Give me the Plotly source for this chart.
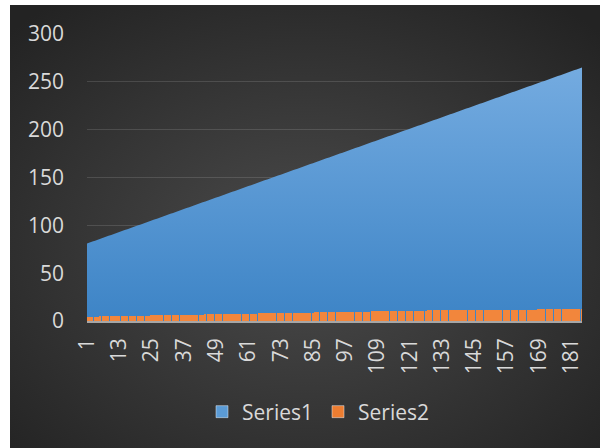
import base64
import plotly.graph_objects as go

# ---------------- data ----------------
categories = list(range(1, 186))

series1 = [
    81, 82, 83, 84, 85, 86, 87, 88, 89, 90, 91, 92, 93, 94, 95, 96, 97, 98, 99, 100,
    101, 102, 103, 104, 105, 106, 107, 108, 109, 110, 111, 112, 113, 114, 115, 116, 117, 118, 119, 120,
    121, 122, 123, 124, 125, 126, 127, 128, 129, 130, 131, 132, 133, 134, 135, 136, 137, 138, 139, 140,
    141, 142, 143, 144, 145, 146, 147, 148, 149, 150, 151, 152, 153, 154, 155, 156, 157, 158, 159, 160,
    161, 162, 163, 164, 165, 166, 167, 168, 169, 170, 171, 172, 173, 174, 175, 176, 177, 178, 179, 180,
    181, 182, 183, 184, 185, 186, 187, 188, 189, 190, 191, 192, 193, 194, 195, 196, 197, 198, 199, 200,
    201, 202, 203, 204, 205, 206, 207, 208, 209, 210, 211, 212, 213, 214, 215, 216, 217, 218, 219, 220,
    221, 222, 223, 224, 225, 226, 227, 228, 229, 230, 231, 232, 233, 234, 235, 236, 237, 238, 239, 240,
    241, 242, 243, 244, 245, 246, 247, 248, 249, 250, 251, 252, 253, 254, 255, 256, 257, 258, 259, 260,
    261, 262, 263, 264, 265,
]

series2 = [
    4, 4, 4, 4, 4,
    5, 5, 5, 5, 5, 5, 5, 5, 5, 5, 5, 5, 5, 5, 5, 5, 5, 5, 5,
    6, 6, 6, 6, 6, 6, 6, 6, 6, 6, 6, 6, 6, 6, 6, 6, 6, 6, 6, 6,
    7, 7, 7, 7, 7, 7, 7, 7, 7, 7, 7, 7, 7, 7, 7, 7, 7, 7, 7, 7,
    8, 8, 8, 8, 8, 8, 8, 8, 8, 8, 8, 8, 8, 8, 8, 8, 8, 8, 8, 8, 8,
    9, 9, 9, 9, 9, 9, 9, 9, 9, 9, 9, 9, 9, 9, 9, 9, 9, 9, 9, 9, 9,
    10, 10, 10, 10, 10, 10, 10, 10, 10, 10, 10, 10, 10, 10, 10, 10, 10, 10, 10, 10, 10,
    11, 11, 11, 11, 11, 11, 11, 11, 11, 11, 11, 11, 11, 11, 11, 11, 11, 11, 11, 11,
    12, 12, 12, 12, 12, 12, 12, 12, 12, 12, 12, 12, 12, 12, 12, 12, 12, 12, 12, 12, 12,
    13, 13, 13, 13, 13, 13, 13, 13, 13, 13, 13, 13, 13, 13, 13, 13, 13,
]

x_tick_vals = [1, 13, 25, 37, 49, 61, 73, 85, 97, 109, 121, 133, 145, 157, 169, 181]
x_tick_labels = ["1", "13", "25", "37", "49", "61", "73", "85", "97", "109",
                 "121", "133", "145", "157", "169", "181"]
y_tick_vals = [0, 50, 100, 150, 200, 250, 300]
y_tick_labels = ["0", "50", "100", "150", "200", "250", "300"]

# ---------------- geometry ----------------
W, H = 600, 448
L, R, T, B = 87, 18, 34, 127
PW, PH = W - L - R, H - T - B

FONT = "Open Sans"
TXT = "#d9d9d9"
FS = 21

svg = (
    '<svg xmlns="http://www.w3.org/2000/svg" width="590" height="443" '
    'preserveAspectRatio="none"><defs><radialGradient id="g" cx="50%" cy="55%" r="70%">'
    '<stop offset="0%" stop-color="#4b4b4b"/><stop offset="100%" stop-color="#232323"/>'
    '</radialGradient></defs><rect width="590" height="443" fill="url(#g)"/></svg>'
)
bg_src = "data:image/svg+xml;base64," + base64.b64encode(svg.encode()).decode()

fig = go.Figure()

fig.add_trace(go.Scatter(
    x=categories, y=series1, name="Series1", mode="none", fill="tozeroy",
    fillgradient=dict(type="vertical", start=0, stop=265,
                      colorscale=[[0, "#3d84c6"], [1, "#74abe0"]]),
    showlegend=False, hoverinfo="skip",
))

fig.add_trace(go.Bar(
    x=categories, y=series2, name="Series2", width=0.72,
    marker=dict(color="#f2863c", line=dict(width=0)),
    xaxis="x2", yaxis="y2", showlegend=False, hoverinfo="skip",
))

# legend entries
fig.add_trace(go.Bar(x=[None], y=[None], name="Series1",
                     marker=dict(color="#5b9bd5"), xaxis="x2", yaxis="y2"))
fig.add_trace(go.Bar(x=[None], y=[None], name="Series2",
                     marker=dict(color="#ed7d31"), xaxis="x2", yaxis="y2"))

fig.update_layout(
    width=W, height=H, autosize=False,
    margin=dict(l=L, r=R, t=T, b=B, pad=0),
    paper_bgcolor="white", plot_bgcolor="rgba(0,0,0,0)",
    font=dict(family=FONT, color=TXT, size=FS),
    bargap=0,
    images=[dict(
        source=bg_src, xref="paper", yref="paper",
        x=(10 - L) / PW, y=(T + PH - 5) / PH,
        sizex=590 / PW, sizey=443 / PH,
        xanchor="left", yanchor="top", sizing="stretch", layer="below",
    )],
    xaxis=dict(
        range=[1, 185], showgrid=False, zeroline=False, showline=False,
        tickmode="array", tickvals=x_tick_vals, ticktext=x_tick_labels,
        tickangle=-90, ticks="", ticklabelstandoff=12,
        tickfont=dict(family=FONT, size=FS, color=TXT),
    ),
    yaxis=dict(
        range=[0, 300], tickmode="array", tickvals=y_tick_vals, ticktext=y_tick_labels,
        showgrid=True, gridcolor="rgba(255,255,255,0.13)", gridwidth=1,
        zeroline=False, showline=False, ticks="", ticklabelstandoff=22,
        tickfont=dict(family=FONT, size=FS, color=TXT),
    ),
    xaxis2=dict(
        overlaying="x", matches="x", anchor="y2", showgrid=False, zeroline=False,
        showticklabels=False, ticks="", showline=True, linecolor="#a6a6a6", linewidth=2,
    ),
    yaxis2=dict(overlaying="y", matches="y", visible=False),
    legend=dict(
        orientation="h", x=(318 - L) / PW, xanchor="center",
        y=(T + PH - 412) / PH, yanchor="middle",
        bgcolor="rgba(0,0,0,0)", font=dict(family=FONT, size=FS, color=TXT),
        itemclick=False,
    ),
)

fig.write_html("out.html", config={"displayModeBar": False},
               post_script="document.body.style.margin='0px';document.body.style.overflow='hidden';")
